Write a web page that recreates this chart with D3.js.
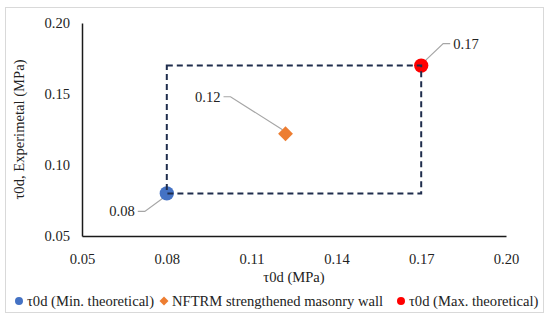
<!DOCTYPE html>
<html>
<head>
<meta charset="utf-8">
<script src="https://cdn.jsdelivr.net/npm/d3@7"></script>
<style>
  body { margin: 0; background: #fff; }
  svg text { font-family: 'Liberation Serif', 'DejaVu Serif', serif !important; fill: #222; }
</style>
</head>
<body>
<div id="chart"></div>
<script>
// series: name, x, y, label, colour, symbol
const seriesNames = ["τ0d (Min. theoretical)", "NFTRM strengthened masonry wall", "τ0d (Max. theoretical)"];
const seriesX = [0.08, 0.122, 0.17];
const seriesY = [0.08, 0.122, 0.17];
const seriesLabels = ["0.08", "0.12", "0.17"];
const seriesColors = ["#4472c4", "#ed7d31", "#ff0000"];
const seriesSymbols = ["circle", "diamond", "circle"];

// label offsets from the point (elbow then text), in pixels
const labelOffsets = [[-22, 18], [-55, -37], [22, -22]];

const xTicks = [0.05, 0.08, 0.11, 0.14, 0.17, 0.20];
const yTicks = [0.05, 0.10, 0.15, 0.20];

// dashed envelope between min and max theoretical
const boxMin = 0.08;
const boxMax = 0.17;

const width = 550;
const height = 321;
const margin = { top: 23, right: 44, bottom: 85, left: 82 };
const fontSize = 14.6;
const font = "'Liberation Serif', 'DejaVu Serif', serif";

const svg = d3.select("#chart")
    .append("svg")
    .attr("width", width)
    .attr("height", height)
    .attr("viewBox", [0, 0, width, height])
    .style("font-family", font);

svg.append("rect")
    .attr("x", 5.5).attr("y", 7.5)
    .attr("width", 538).attr("height", 305)
    .attr("fill", "#fff")
    .attr("stroke", "#d9d9d9");

const xScale = d3.scaleLinear()
    .domain([0.05, 0.20])
    .range([margin.left, width - margin.right]);
const yScale = d3.scaleLinear()
    .domain([0.05, 0.20])
    .range([height - margin.bottom, margin.top]);

const xAxis = d3.axisBottom(xScale)
    .tickValues(xTicks)
    .tickFormat(d3.format(".2f"))
    .tickSize(0)
    .tickPadding(18);
const yAxis = d3.axisLeft(yScale)
    .tickValues(yTicks)
    .tickFormat(d3.format(".2f"))
    .tickSize(0)
    .tickPadding(12);

const gx = svg.append("g")
    .attr("transform", `translate(0,${height - margin.bottom})`)
    .call(xAxis);
const gy = svg.append("g")
    .attr("transform", `translate(${margin.left},0)`)
    .call(yAxis);

for (const g of [gx, gy]) {
    g.attr("font-family", null).attr("font-size", null);
    g.select(".domain").attr("stroke", "#1a1a1a").attr("stroke-width", 1.5);
    g.selectAll("text")
        .style("font-family", font)
        .attr("font-size", fontSize)
        .attr("fill", "#222");
}

// axis titles
svg.append("text")
    .attr("x", (xScale(0.05) + xScale(0.20)) / 2)
    .attr("y", 282)
    .attr("text-anchor", "middle")
    .attr("font-size", fontSize)
    .text("τ0d (MPa)");

svg.append("text")
    .attr("transform", `translate(24,${(yScale(0.05) + yScale(0.20)) / 2}) rotate(-90)`)
    .attr("text-anchor", "middle")
    .attr("font-size", fontSize)
    .text("τ0d, Experimetal (MPa)");

const symbolFor = (s, size) => d3.symbol()
    .type(s === "diamond" ? d3.symbolSquare : d3.symbolCircle)
    .size(size)();

const points = seriesNames.map((name, i) => ({
    name: name,
    x: seriesX[i],
    y: seriesY[i],
    label: seriesLabels[i],
    color: seriesColors[i],
    symbol: seriesSymbols[i],
    offset: labelOffsets[i],
}));

// leader lines and data labels
const labels = svg.append("g");
points.forEach((d) => {
    const px = xScale(d.x);
    const py = yScale(d.y);
    const [dx, dy] = d.offset;
    const dir = dx < 0 ? -1 : 1;
    const elbowX = px + dx;
    const elbowY = py + dy;
    labels.append("path")
        .attr("d", d3.line()([
            [px + dir * 3, py + (dy < 0 ? -4 : 4)],
            [elbowX, elbowY],
            [elbowX + dir * 7, elbowY],
        ]))
        .attr("fill", "none")
        .attr("stroke", "#a6a6a6")
        .attr("stroke-width", 1.2);
    labels.append("text")
        .attr("x", elbowX + dir * 10)
        .attr("y", elbowY + 5)
        .attr("text-anchor", dir < 0 ? "end" : "start")
        .attr("font-size", fontSize)
        .text(d.label);
});

// markers
svg.append("g")
    .selectAll("path")
    .data(points)
    .join("path")
    .attr("transform", (d) => `translate(${xScale(d.x)},${yScale(d.y)})${d.symbol === "diamond" ? " rotate(45)" : ""}`)
    .attr("d", (d) => symbolFor(d.symbol, d.symbol === "diamond" ? 110 : 160))
    .attr("fill", (d) => d.color);

// dashed rectangle on top of markers
svg.append("rect")
    .attr("x", xScale(boxMin))
    .attr("y", yScale(boxMax))
    .attr("width", xScale(boxMax) - xScale(boxMin))
    .attr("height", yScale(boxMin) - yScale(boxMax))
    .attr("fill", "none")
    .attr("stroke", "#1f2d4d")
    .attr("stroke-width", 2)
    .attr("stroke-dasharray", "6,4");

// legend
const legendX = [19, 164, 401];
const legend = svg.append("g")
    .selectAll("g")
    .data(points)
    .join("g")
    .attr("transform", (d, i) => `translate(${legendX[i]},301)`);
legend.append("path")
    .attr("transform", (d) => d.symbol === "diamond" ? "rotate(45)" : null)
    .attr("d", (d) => symbolFor(d.symbol, d.symbol === "diamond" ? 40 : 50))
    .attr("fill", (d) => d.color);
legend.append("text")
    .attr("x", 8)
    .attr("y", 5)
    .attr("font-size", fontSize)
    .text((d) => d.name);
</script>
</body>
</html>
